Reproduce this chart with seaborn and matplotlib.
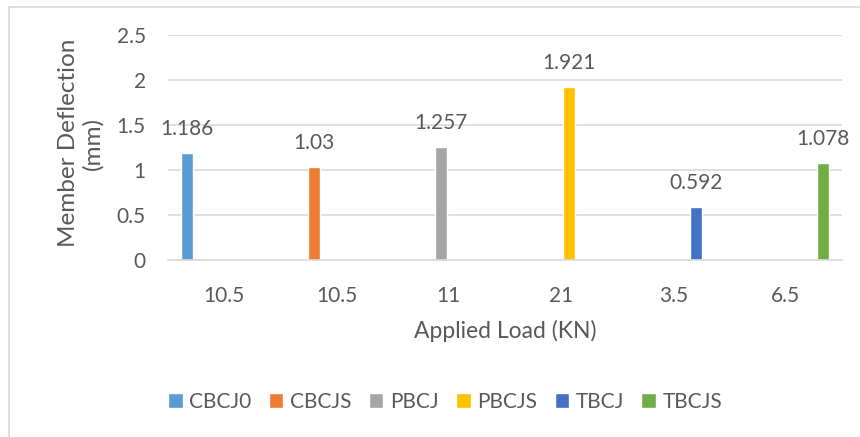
import matplotlib
matplotlib.use("Agg")
import matplotlib.pyplot as plt
from matplotlib.lines import Line2D
import pandas as pd
import seaborn as sns

# chart values
series = ["CBCJ0", "CBCJS", "PBCJ", "PBCJS", "TBCJ", "TBCJS"]
loads = ["10.5", "10.5", "11", "21", "3.5", "6.5"]
deflection = [1.186, 1.03, 1.257, 1.921, 0.592, 1.078]
colors = ["#5B9BD5", "#ED7D31", "#A5A5A5", "#FFC000", "#4472C4", "#70AD47"]

grid_c = "#D9D9D9"
text_c = "#595959"

sns.set_theme(style="white")
plt.rcParams["font.family"] = ["Lato", "DejaVu Sans"]

# one bar per series, each in its own load group (index keeps duplicate labels apart)
df = pd.DataFrame({"pos": list(range(len(loads))), "Series": series, "val": deflection})

fig = plt.figure(figsize=(8.6, 4.37), dpi=100)
ax = fig.add_axes([168 / 860, 1 - 260 / 437, 674 / 860, 225 / 437])

sns.barplot(data=df, x="pos", y="val", hue="Series", hue_order=series,
            palette=colors, width=0.79, gap=0.19, dodge=True,
            order=list(range(len(loads))), ax=ax, saturation=1, legend=True)

for cont in ax.containers:
    ax.bar_label(cont, fmt="{:g}", padding=10, fontsize=15, color=text_c)

ax.set_xlim(-0.5, len(loads) - 0.5)
ax.set_ylim(0, 2.5)
ax.set_yticks([0, 0.5, 1, 1.5, 2, 2.5])
ax.set_yticklabels(["0", "0.5", "1", "1.5", "2", "2.5"])
ax.set_xticks(range(len(loads)))
ax.set_xticklabels(loads)
ax.tick_params(axis="both", length=0, labelsize=15, labelcolor=text_c)
ax.tick_params(axis="y", pad=16)
ax.tick_params(axis="x", pad=19)
ax.yaxis.grid(True, color=grid_c, linewidth=1.2)
ax.set_axisbelow(True)
for s in ["top", "right", "left"]:
    ax.spines[s].set_visible(False)
ax.spines["bottom"].set_color(grid_c)
ax.spines["bottom"].set_linewidth(1.2)
ax.set_xlabel("")
ax.set_ylabel("")

fig.text(505 / 860, 1 - 331 / 437, "Applied Load (KN)", ha="center", va="center",
         fontsize=16.5, color=text_c)
fig.text(81 / 860, 1 - 143 / 437, "Member Deflection\n(mm)", ha="center", va="center",
         rotation=90, fontsize=17.5, color=text_c, linespacing=1.15)

handles, labels = ax.get_legend_handles_labels()
ax.get_legend().remove()
fig.legend(handles, labels, loc="center", bbox_to_anchor=(445 / 860, 1 - 402 / 437),
           ncol=6, frameon=False, fontsize=15, handlelength=0.7, handleheight=0.7,
           handletextpad=0.3, columnspacing=0.85, labelcolor=text_c)

# chart area border
fig.add_artist(Line2D([8.5 / 860, 8.5 / 860], [0, 1 - 6.5 / 437], color=grid_c, linewidth=1.2))
fig.add_artist(Line2D([8.5 / 860, 1], [1 - 6.5 / 437, 1 - 6.5 / 437], color=grid_c, linewidth=1.2))

fig.savefig("out.png", dpi=100)
